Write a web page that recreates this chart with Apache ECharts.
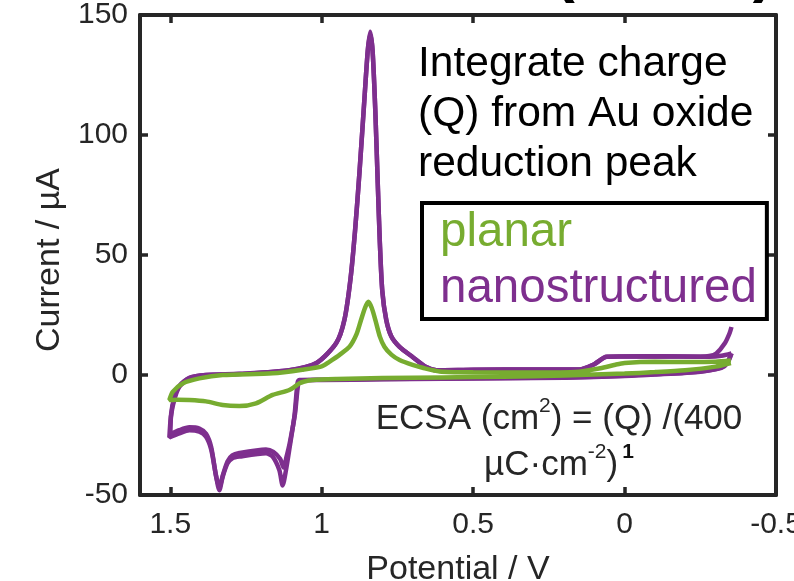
<!DOCTYPE html>
<html>
<head>
<meta charset="utf-8">
<script src="https://cdn.jsdelivr.net/npm/echarts@6/dist/echarts.min.js"></script>
<style>
html,body{margin:0;padding:0;background:#fff;overflow:hidden;}
#chart{width:794px;height:581px;}
</style>
</head>
<body>
<div id="chart"></div>
<script>
// ---- data ----
const potentialTicks = [1.5, 1, 0.5, 0, -0.5];
const currentTicks = [-50, 0, 50, 100, 150];
const seriesNames = ['planar', 'nanostructured'];

// planar (green) CV loop
const planarPotential = [-0.351, -0.30, -0.20, -0.10, 0.00, 0.20, 0.40, 0.60, 0.80, 0.95, 1.03, 1.06, 1.074, 1.107, 1.162, 1.217, 1.272, 1.327, 1.382, 1.437, 1.475, 1.503,
  1.492, 1.459, 1.404, 1.327, 1.162, 1.064, 1.00, 0.975, 0.94, 0.908, 0.885, 0.870, 0.857, 0.846, 0.835, 0.823, 0.808, 0.793, 0.770, 0.743, 0.700, 0.667, 0.611, 0.50, 0.30, 0.15, 0.08, 0.03, 0.00, -0.10, -0.20, -0.30, -0.351];
const planarCurrent = [5.0, 3.5, 2.0, 1.2, 0.6, -0.2, -0.7, -1.0, -1.3, -1.7, -2.1, -2.8, -3.5, -6.25, -8.3, -11.8, -12.9, -12.5, -11.0, -10.4, -10.3, -10.4,
  -7.0, -3.5, -1.4, 0.0, 0.7, 2.2, 3.6, 5.5, 8.5, 11.8, 17.0, 23.0, 28.0, 30.5, 28.0, 23.0, 16.0, 11.8, 8.5, 6.25, 4.2, 3.0, 1.5, 1.1, 1.0, 1.4, 2.8, 4.3, 5.0, 5.5, 5.4, 5.5, 6.0];

// nanostructured (purple) CV, cycle 1
const nanoCycle1Potential = [-0.353, -0.34, -0.32, -0.25, -0.10, 0.00, 0.20, 0.40, 0.60, 0.80, 1.00, 1.074, 1.080, 1.090, 1.107, 1.118, 1.129, 1.140, 1.162, 1.184, 1.272, 1.295, 1.311, 1.327, 1.338, 1.349, 1.365, 1.382, 1.404, 1.437, 1.470, 1.503,
  1.498, 1.487, 1.470, 1.437, 1.382, 1.272, 1.107, 1.017, 0.952, 0.925, 0.905, 0.890, 0.875, 0.859, 0.848, 0.840, 0.832, 0.823, 0.815, 0.808, 0.800, 0.787, 0.770, 0.743, 0.700, 0.655, 0.621, 0.50, 0.30, 0.15, 0.10, 0.059, -0.10, -0.28, -0.32, -0.353];
const nanoCycle1Current = [9.0, 5.0, 3.0, 1.5, 0.3, -0.3, -1.0, -1.3, -1.5, -1.7, -2.0, -2.1, -3.5, -17.0, -31.0, -39.6, -46.0, -39.6, -34.0, -32.6, -34.0, -34.7, -36.8, -42.4, -48.0, -42.0, -31.0, -25.7, -23.6, -23.0, -24.3, -26.0,
  -17.4, -10.4, -4.9, -1.3, 0.0, 0.4, 2.0, 5.0, 13.3, 23.0, 40.0, 60.0, 85.0, 115.0, 135.0, 143.0, 135.0, 110.0, 80.0, 55.0, 35.0, 23.0, 16.0, 11.7, 7.5, 3.3, 2.0, 2.2, 2.3, 2.3, 4.5, 7.6, 7.8, 7.6, 8.0, 9.0];

// nanostructured (purple) CV, cycle 2
const nanoCycle2Potential = [-0.353, -0.34, -0.32, -0.25, -0.10, 0.00, 0.20, 0.40, 0.60, 0.80, 1.00, 1.070, 1.078, 1.088, 1.105, 1.116, 1.126, 1.137, 1.160, 1.184, 1.272, 1.295, 1.311, 1.327, 1.338, 1.349, 1.365, 1.382, 1.404, 1.437, 1.470, 1.500,
  1.497, 1.487, 1.470, 1.437, 1.382, 1.272, 1.107, 1.017, 0.952, 0.925, 0.905, 0.890, 0.875, 0.859, 0.848, 0.840, 0.832, 0.823, 0.815, 0.808, 0.800, 0.787, 0.770, 0.743, 0.700, 0.655, 0.621, 0.50, 0.30, 0.15, 0.10, 0.059, -0.10, -0.25, -0.28, -0.303, -0.331, -0.347, -0.353];
const nanoCycle2Current = [9.0, 5.5, 3.2, 1.4, 0.2, -0.4, -1.1, -1.4, -1.6, -1.8, -2.1, -2.3, -4.0, -16.0, -28.0, -34.0, -38.5, -35.0, -32.0, -31.0, -32.5, -33.5, -36.0, -42.0, -47.0, -42.0, -30.0, -24.5, -22.3, -21.8, -23.0, -24.8,
  -16.0, -9.5, -4.5, -1.2, 0.0, 0.5, 2.0, 5.0, 13.3, 23.0, 40.0, 60.0, 85.0, 115.0, 135.0, 142.0, 135.0, 110.0, 80.0, 55.0, 35.0, 23.0, 16.0, 11.7, 7.5, 3.3, 2.0, 2.2, 2.3, 2.3, 4.5, 7.6, 7.8, 7.6, 7.9, 9.0, 13.2, 17.5, 20.0];

// ---- build chart ----
const zip = (xs, ys) => xs.map((x, i) => [x, ys[i]]);
const FONT = 'Liberation Sans, Arial, Helvetica, sans-serif';
const AXIS = '#262626';
const GREEN = '#77AC30';
const PURPLE = '#7E2F8E';

const chart = echarts.init(document.getElementById('chart'), null, {renderer: 'canvas'});

const axisCommon = {
  axisLine: {show: true, onZero: false, lineStyle: {color: AXIS, width: 4}},
  axisTick: {show: true, inside: true, length: 8, lineStyle: {color: AXIS, width: 3.5}},
  splitLine: {show: false}
};

const option = {
  animation: false,
  textStyle: {fontFamily: FONT},
  grid: {left: 140, right: 18, top: 15, bottom: 86, containLabel: false, outerBoundsMode: 'none'},
  xAxis: [
    Object.assign({}, axisCommon, {
      type: 'value', inverse: true, min: -0.5, max: 1.6, position: 'bottom',
      axisTick: Object.assign({}, axisCommon.axisTick, {customValues: potentialTicks}),
      axisLabel: {customValues: potentialTicks, color: AXIS, fontSize: 30, fontFamily: FONT, margin: 15},
      name: 'Potential / V', nameLocation: 'middle', nameGap: 58,
      nameTextStyle: {color: AXIS, fontSize: 34, fontFamily: FONT}
    }),
    Object.assign({}, axisCommon, {
      type: 'value', inverse: true, min: -0.5, max: 1.6, position: 'top',
      axisTick: Object.assign({}, axisCommon.axisTick, {customValues: potentialTicks}),
      axisLabel: {show: false}
    })
  ],
  yAxis: [
    Object.assign({}, axisCommon, {
      type: 'value', min: -50, max: 150, position: 'left',
      axisTick: Object.assign({}, axisCommon.axisTick, {customValues: currentTicks}),
      axisLabel: {customValues: currentTicks, color: AXIS, fontSize: 30, fontFamily: FONT, margin: 12},
      name: 'Current / µA', nameLocation: 'middle', nameGap: 71,
      nameTextStyle: {color: AXIS, fontSize: 34, fontFamily: FONT, padding: [0, 10, 0, 0]}
    }),
    Object.assign({}, axisCommon, {
      type: 'value', min: -50, max: 150, position: 'right',
      axisTick: Object.assign({}, axisCommon.axisTick, {customValues: currentTicks}),
      axisLabel: {show: false}
    })
  ],
  legend: {
    left: 422, top: 203, orient: 'vertical',
    icon: 'none', itemWidth: 0, itemHeight: 10, itemGap: 8,
    padding: [6, 10, 6, 13],
    borderColor: '#000', borderWidth: 4,
    selectedMode: false,
    textStyle: {fontSize: 47.5, fontFamily: FONT},
    data: [
      {name: seriesNames[0], textStyle: {color: GREEN}},
      {name: seriesNames[1], textStyle: {color: PURPLE}}
    ]
  },
  series: [
    {name: seriesNames[0], type: 'line', data: zip(planarPotential, planarCurrent), showSymbol: false, symbol: 'none',
      smooth: 0.25, color: GREEN, lineStyle: {color: GREEN, width: 4.5}, z: 3},
    {name: seriesNames[1], type: 'line', data: zip(nanoCycle1Potential, nanoCycle1Current), showSymbol: false, symbol: 'none',
      smooth: 0.25, color: PURPLE, lineStyle: {color: PURPLE, width: 4.5}, z: 2},
    {name: seriesNames[1], type: 'line', data: zip(nanoCycle2Potential, nanoCycle2Current), showSymbol: false, symbol: 'none',
      smooth: 0.25, color: PURPLE, lineStyle: {color: PURPLE, width: 4.5}, z: 2}
  ],
  graphic: [
    {type: 'text', left: 418, top: 39, z: 10,
      style: {text: 'Integrate charge\n(Q) from Au oxide\nreduction peak', fill: '#000', font: '42.5px ' + FONT, lineHeight: 50}},
    {type: 'text', x: 559, y: 396, z: 10,
      style: {
        text: 'ECSA (cm{sup|2}) = (Q) /(400\nµC·cm{sup|-2}){supb|1}',
        fill: AXIS, fontSize: 35, fontFamily: FONT, lineHeight: 46, align: 'center', verticalAlign: 'top',
        rich: {
          sup: {fontSize: 21, fontFamily: FONT, fill: AXIS, verticalAlign: 'top', lineHeight: 26},
          supb: {fontSize: 21, fontWeight: 'bold', fontFamily: FONT, fill: '#111', verticalAlign: 'top', lineHeight: 26, padding: [0, 0, 0, 4]}
        }
      }},
    {type: 'text', x: 774, y: 4, z: 10,
      style: {text: '(ECSA)', fill: '#000', fontSize: 64, fontWeight: 'bold', fontFamily: FONT, align: 'right', verticalAlign: 'bottom'}}
  ]
};
chart.setOption(option);
</script>
</body>
</html>
